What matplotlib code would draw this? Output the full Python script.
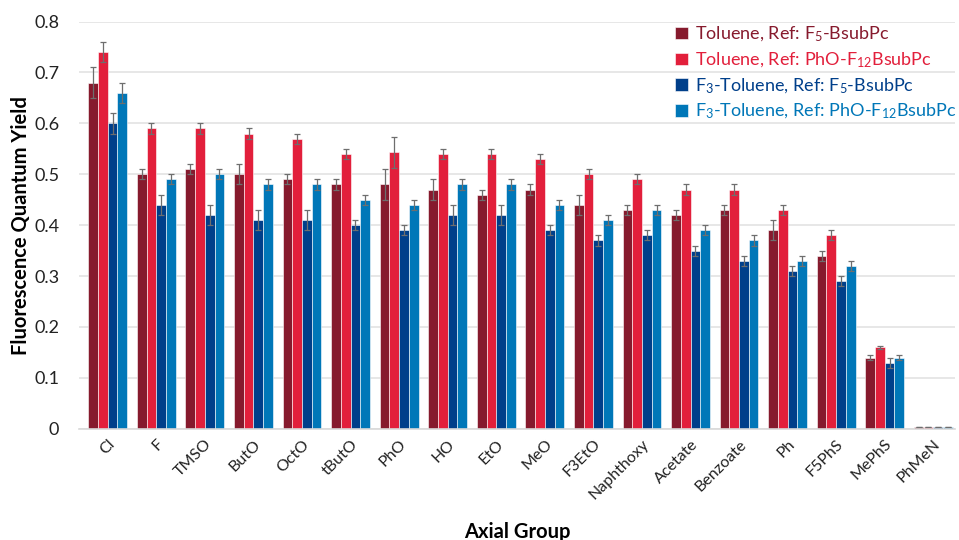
import numpy as np
import matplotlib.pyplot as plt

plt.rcParams['font.family'] = ['Lato', 'DejaVu Sans']
plt.rcParams['mathtext.default'] = 'regular'

groups = ["Cl", "F", "TMSO", "ButO", "OctO", "tButO", "PhO", "HO", "EtO", "MeO",
          "F3EtO", "Naphthoxy", "Acetate", "Benzoate", "Ph", "F5PhS", "MePhS", "PhMeN"]

tol_f5 = [0.68, 0.50, 0.51, 0.50, 0.49, 0.48, 0.48, 0.47, 0.46, 0.47,
          0.44, 0.43, 0.42, 0.43, 0.39, 0.34, 0.14, 0.003]
tol_pho = [0.74, 0.59, 0.59, 0.58, 0.57, 0.54, 0.543, 0.54, 0.54, 0.53,
           0.50, 0.49, 0.47, 0.47, 0.43, 0.38, 0.16, 0.003]
f3_f5 = [0.60, 0.44, 0.42, 0.41, 0.41, 0.40, 0.39, 0.42, 0.42, 0.39,
         0.37, 0.38, 0.35, 0.33, 0.31, 0.29, 0.13, 0.003]
f3_pho = [0.66, 0.49, 0.50, 0.48, 0.48, 0.45, 0.44, 0.48, 0.48, 0.44,
          0.41, 0.43, 0.39, 0.37, 0.33, 0.32, 0.14, 0.003]

err_tol_f5 = [0.03, 0.01, 0.01, 0.02, 0.01, 0.01, 0.03, 0.02, 0.01, 0.01,
              0.02, 0.01, 0.01, 0.01, 0.02, 0.01, 0.005, 0.0]
err_tol_pho = [0.02, 0.01, 0.01, 0.01, 0.01, 0.01, 0.03, 0.01, 0.01, 0.01,
               0.01, 0.01, 0.01, 0.01, 0.01, 0.01, 0.003, 0.0]
err_f3_f5 = [0.02, 0.02, 0.02, 0.02, 0.02, 0.01, 0.01, 0.02, 0.02, 0.01,
             0.01, 0.01, 0.01, 0.01, 0.01, 0.01, 0.01, 0.0]
err_f3_pho = [0.02, 0.01, 0.01, 0.01, 0.01, 0.01, 0.01, 0.01, 0.01, 0.01,
              0.01, 0.01, 0.01, 0.01, 0.01, 0.01, 0.005, 0.0]

labels = ["Toluene, Ref: F$_5$-BsubPc",
          "Toluene, Ref: PhO-F$_{12}$BsubPc",
          "F$_3$-Toluene, Ref: F$_5$-BsubPc",
          "F$_3$-Toluene, Ref: PhO-F$_{12}$BsubPc"]
colors = ["#861a2d", "#e21f3b", "#003f8a", "#0077b8"]

series = [tol_f5, tol_pho, f3_f5, f3_pho]
errors = [err_tol_f5, err_tol_pho, err_f3_f5, err_f3_pho]

fig = plt.figure(figsize=(9.59, 5.4), dpi=100)
ax = fig.add_axes([0.082, 0.206, 0.914, 0.754])

x = np.arange(len(groups))
w = 0.2
for i in range(4):
    ax.bar(x + (i - 1.5) * w, series[i], w, color=colors[i], edgecolor="white",
           linewidth=0.4, label=labels[i], zorder=2,
           yerr=errors[i], error_kw=dict(ecolor="#6e6e6e", elinewidth=0.9,
                                          capsize=2, capthick=0.9))

ax.set_ylim(0, 0.8)
ax.set_xlim(-0.6, 17.45)
ax.set_yticks(np.arange(0, 0.81, 0.1))
ax.set_yticklabels(["0", "0.1", "0.2", "0.3", "0.4", "0.5", "0.6", "0.7", "0.8"])
ax.yaxis.grid(True, color="#e3e3e3", linewidth=1.2, zorder=0)
ax.set_axisbelow(True)
for s in ["top", "right", "left"]:
    ax.spines[s].set_visible(False)
ax.spines["bottom"].set_color("#d9d9d9")
ax.spines["bottom"].set_linewidth(1.2)
ax.tick_params(axis="both", length=0, labelsize=13, colors="#222222")
ax.tick_params(axis="y", pad=14)
ax.tick_params(axis="x", pad=6)
ax.set_xticks(x)
ax.set_xticklabels(groups, rotation=45, ha="right", rotation_mode="anchor", fontsize=11.5)

ax.set_ylabel("Fluorescence Quantum Yield", fontsize=14.5, fontweight="bold", labelpad=2)
ax.set_xlabel("Axial Group", fontsize=14.5, fontweight="bold", labelpad=14)

leg = ax.legend(loc="upper right", bbox_to_anchor=(1.01, 1.01), frameon=False,
                fontsize=13, handlelength=0.7, handleheight=0.7, handletextpad=0.4,
                labelspacing=0.35, borderaxespad=0.0)
for t, c in zip(leg.get_texts(), colors):
    t.set_color(c)

fig.savefig("out.png", dpi=100)
